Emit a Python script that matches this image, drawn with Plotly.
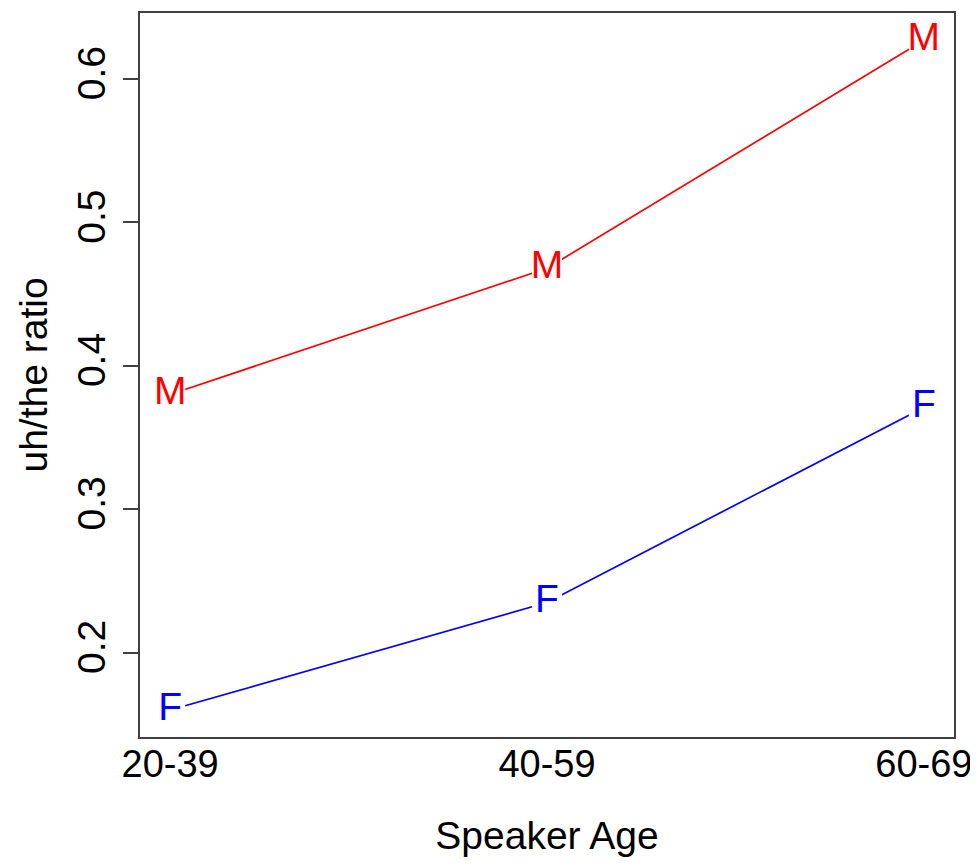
import plotly.graph_objects as go

age_groups = ["20-39", "40-59", "60-69"]
x_pos = [1, 2, 3]
male_ratio = [0.380, 0.468, 0.627]
female_ratio = [0.160, 0.235, 0.371]
y_ticks = [0.2, 0.3, 0.4, 0.5, 0.6]
y_tick_labels = ["0.2", "0.3", "0.4", "0.5", "0.6"]

FONT = "Arial, Liberation Sans, sans-serif"
fs = 39

fig = go.Figure()
for vals, col, lab in [(male_ratio, "#FF0000", "M"), (female_ratio, "#0000FF", "F")]:
    fig.add_trace(go.Scatter(
        x=x_pos, y=vals, mode="lines+markers+text",
        line=dict(color=col, width=1.7),
        marker=dict(symbol="square", color="white", size=30, line=dict(width=0)),
        text=[lab] * len(vals), textposition="middle center",
        textfont=dict(family=FONT, size=fs, color=col),
        showlegend=False, cliponaxis=False,
    ))

fig.update_layout(
    width=970, height=849,
    margin=dict(l=132, r=24, t=5, b=120),
    paper_bgcolor="white", plot_bgcolor="white",
    font=dict(family=FONT, size=fs, color="black"),
    xaxis=dict(
        range=[0.92, 3.08], tickvals=x_pos, ticktext=age_groups,
        showgrid=False, zeroline=False, ticks="", automargin=False,
        showline=True, mirror=True, linecolor="#404040", linewidth=2,
        title=dict(text="Speaker Age", standoff=39, font=dict(size=fs)),
        tickfont=dict(size=38), ticklabelstandoff=-8,
        ticklabeloverflow="allow",
    ),
    yaxis=dict(
        range=[0.1412, 0.646], tickvals=y_ticks, ticktext=y_tick_labels,
        showgrid=False, zeroline=False, ticks="outside", ticklen=15,
        tickcolor="#404040", tickwidth=2, tickangle=-90, automargin=False,
        showline=True, mirror=True, linecolor="#404040", linewidth=2,
        title=dict(text="uh/the ratio", standoff=11, font=dict(size=fs)),
        tickfont=dict(size=fs), ticklabelstandoff=2,
    ),
)

fig.write_html("out.html")
